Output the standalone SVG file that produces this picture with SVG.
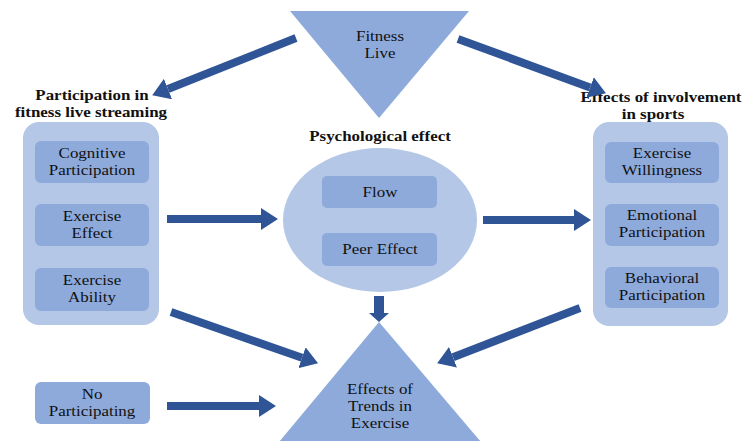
<svg xmlns="http://www.w3.org/2000/svg" width="743" height="441" viewBox="0 0 743 441">
<defs>
<style>
.t{font-family:"Liberation Serif","Times New Roman",serif;font-size:15px;fill:#111;text-anchor:middle}
.b{font-weight:bold}
.cont{fill:#b4c7e7}
.box{fill:#8eaadb}
.tri{fill:#8eaadb}
.arr{stroke:#2f5597;stroke-width:8;fill:none}
</style>
<marker id="ah" markerUnits="userSpaceOnUse" markerWidth="18" markerHeight="22" refX="0" refY="11" orient="auto">
<path d="M0,0 L17,11 L0,22 Z" fill="#2f5597"/>
</marker>
</defs>
<rect width="743" height="441" fill="#fff"/>

<g id="fitness-live">
<polygon class="tri" points="290,11 469,11 379,118"/>
<text class="t" transform="translate(380,41) scale(1.13,1)">Fitness</text>
<text class="t" transform="translate(380,58) scale(1.13,1)">Live</text>
</g>

<g id="participation">
<text class="t b" transform="translate(92,100) scale(1.13,1)">Participation in</text>
<text class="t b" transform="translate(91,117) scale(1.13,1)">fitness live streaming</text>
<rect class="cont" x="23" y="122" width="136" height="203" rx="16"/>
</g>
<g id="cognitive">
<rect class="box" x="35" y="141" width="114" height="42" rx="6"/>
<text class="t" transform="translate(92,158) scale(1.13,1)">Cognitive</text>
<text class="t" transform="translate(92,175) scale(1.13,1)">Participation</text>
</g>
<g id="exercise-effect">
<rect class="box" x="35" y="204" width="114" height="42" rx="6"/>
<text class="t" transform="translate(92,221) scale(1.13,1)">Exercise</text>
<text class="t" transform="translate(92,238) scale(1.13,1)">Effect</text>
</g>
<g id="exercise-ability">
<rect class="box" x="35" y="268" width="114" height="43" rx="6"/>
<text class="t" transform="translate(92,285) scale(1.13,1)">Exercise</text>
<text class="t" transform="translate(92,302) scale(1.13,1)">Ability</text>
</g>

<g id="psychological">
<text class="t b" transform="translate(380,141) scale(1.13,1)">Psychological effect</text>
<ellipse class="cont" cx="380" cy="220" rx="97" ry="72"/>
</g>
<g id="flow">
<rect class="box" x="322" y="176" width="115" height="32" rx="5"/>
<text class="t" transform="translate(380,197) scale(1.13,1)">Flow</text>
</g>
<g id="peer-effect">
<rect class="box" x="322" y="233" width="115" height="33" rx="5"/>
<text class="t" transform="translate(380,254) scale(1.13,1)">Peer Effect</text>
</g>

<g id="involvement">
<text class="t b" transform="translate(661,102) scale(1.13,1)">Effects of involvement</text>
<text class="t b" transform="translate(653,119) scale(1.13,1)">in sports</text>
<rect class="cont" x="593" y="122" width="135" height="204" rx="16"/>
</g>
<g id="willingness">
<rect class="box" x="605" y="142" width="114" height="41" rx="6"/>
<text class="t" transform="translate(662,158) scale(1.13,1)">Exercise</text>
<text class="t" transform="translate(662,175) scale(1.13,1)">Willingness</text>
</g>
<g id="emotional">
<rect class="box" x="605" y="204" width="114" height="42" rx="6"/>
<text class="t" transform="translate(662,220) scale(1.13,1)">Emotional</text>
<text class="t" transform="translate(662,237) scale(1.13,1)">Participation</text>
</g>
<g id="behavioral">
<rect class="box" x="605" y="267" width="114" height="41" rx="6"/>
<text class="t" transform="translate(662,283) scale(1.13,1)">Behavioral</text>
<text class="t" transform="translate(662,300) scale(1.13,1)">Participation</text>
</g>

<g id="no-participating">
<rect class="box" x="35" y="382" width="115" height="42" rx="6"/>
<text class="t" transform="translate(92,399) scale(1.13,1)">No</text>
<text class="t" transform="translate(92,416) scale(1.13,1)">Participating</text>
</g>

<g id="trends">
<polygon class="tri" points="379,322 279,442 481,442"/>
<text class="t" transform="translate(380,394) scale(1.13,1)">Effects of</text>
<text class="t" transform="translate(380,411) scale(1.13,1)">Trends in</text>
<text class="t" transform="translate(380,428) scale(1.13,1)">Exercise</text>
</g>

<g id="connectors">
<line class="arr" x1="296" y1="38" x2="168" y2="89" marker-end="url(#ah)"/>
<line class="arr" x1="458" y1="39" x2="590" y2="87.5" marker-end="url(#ah)"/>
<line class="arr" x1="167" y1="219" x2="261" y2="219" marker-end="url(#ah)"/>
<line class="arr" x1="483" y1="220" x2="574" y2="220" marker-end="url(#ah)"/>
<polygon points="374,296 384,296 384,313 389,313 379,322 369,313 374,313" fill="#2f5597"/>
<line class="arr" x1="171" y1="312" x2="302" y2="357.7" marker-end="url(#ah)"/>
<line class="arr" x1="580" y1="308" x2="453" y2="357.2" marker-end="url(#ah)"/>
<line class="arr" x1="167" y1="406" x2="259" y2="406" marker-end="url(#ah)"/>
</g>
</svg>
